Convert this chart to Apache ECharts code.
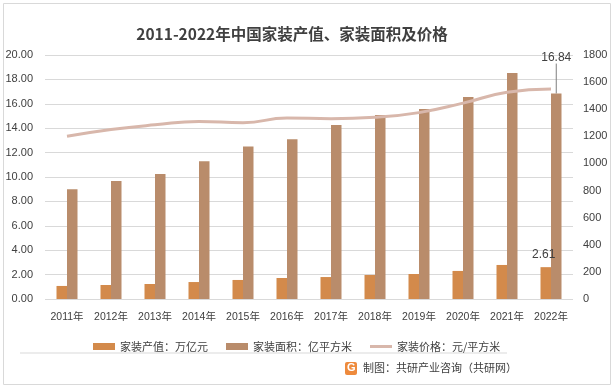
<!DOCTYPE html>
<html><head><meta charset="utf-8">
<script src="https://cdn.jsdelivr.net/npm/echarts@6/dist/echarts.min.js"></script>
<style>html,body{margin:0;padding:0;background:#fff}#c{width:615px;height:389px}</style>
</head><body><div id="c"></div>
<script>
const categories = ['2011年','2012年','2013年','2014年','2015年','2016年','2017年','2018年','2019年','2020年','2021年','2022年'];
const outputValue = [1.07,1.15,1.23,1.39,1.56,1.72,1.80,1.97,2.05,2.30,2.79,2.61];
const area = [9.0,9.67,10.25,11.3,12.5,13.1,14.26,15.08,15.57,16.56,18.52,16.84];
const price = [1200,1250,1285,1310,1300,1335,1330,1340,1375,1445,1525,1550];
const leftTicks = {min:0,max:20,interval:2};
const rightTicks = {min:0,max:1800,interval:200};
const seriesNames = ['家装产值：万亿元','家装面积：亿平方米','家装价格：元/平方米'];
const titleText = '2011-2022年中国家装产值、家装面积及价格';
const sourceText = '制图：共研产业咨询（共研网）';

const txt = '#404040';
const numFont = "'Liberation Sans', Arial, 'Noto Sans CJK SC', sans-serif";
const cjkFont = "'Noto Sans CJK SC', sans-serif";
const last = categories.length - 1;

const chart = echarts.init(document.getElementById('c'), null, {renderer:'canvas'});
chart.setOption({
  animation:false,
  title:{text:titleText,left:287,textAlign:'center',top:21,
    textStyle:{fontFamily:cjkFont,fontSize:15.5,fontWeight:'bold',color:txt}},
  grid:{left:45,right:42,top:55,bottom:90},
  legend:{left:88,top:336,itemWidth:22,itemHeight:7,itemGap:18,
    textStyle:{fontFamily:cjkFont,fontSize:11,color:txt},
    data:[{name:seriesNames[0],icon:'rect'},{name:seriesNames[1],icon:'rect'},
      {name:seriesNames[2],icon:'path://M0,0M22,7M0,2h22v3h-22z'}]},
  xAxis:{type:'category',data:categories,
    axisLine:{show:false},axisTick:{show:false},
    axisLabel:{interval:0,fontFamily:numFont,fontSize:10.5,color:txt,margin:13}},
  yAxis:[
    {type:'value',min:leftTicks.min,max:leftTicks.max,interval:leftTicks.interval,
      axisLabel:{formatter:v=>v.toFixed(2),fontFamily:numFont,fontSize:11,color:txt,margin:12},
      splitLine:{lineStyle:{color:'#d9d9d9'}},axisLine:{show:false},axisTick:{show:false}},
    {type:'value',min:rightTicks.min,max:rightTicks.max,interval:rightTicks.interval,
      axisLabel:{formatter:v=>String(v),fontFamily:numFont,fontSize:11,color:txt,margin:10},
      splitLine:{show:false},axisLine:{show:false},axisTick:{show:false}}
  ],
  series:[
    {name:seriesNames[0],type:'bar',barWidth:10.5,barGap:'0%',
      itemStyle:{color:'#D38A4B'},
      data:outputValue.map((v,i)=>i===last?{value:v,label:{show:true,position:'top',distance:6,offset:[-2,0],
        fontFamily:numFont,fontSize:12,color:txt}}:v)},
    {name:seriesNames[1],type:'bar',barWidth:10.5,barGap:'0%',
      itemStyle:{color:'#B98C6B'},
      labelLine:{show:true,lineStyle:{color:'#7f7f7f',width:1}},
      labelLayout:function(p){ if(p.dataIndex===last){return {dy:-26};} return {}; },
      data:area.map((v,i)=>i===last?{value:v,label:{show:true,position:'top',distance:4,
        fontFamily:numFont,fontSize:12,color:txt}}:v)},
    {name:seriesNames[2],type:'line',yAxisIndex:1,smooth:true,symbol:'none',
      lineStyle:{color:'#D8B7AB',width:3},itemStyle:{color:'#D8B7AB'},
      data:price.map((v,i)=>i===last?{value:v,label:{show:true,position:'right',distance:10,
        fontFamily:numFont,fontSize:12,color:txt}}:v)}
  ],
  graphic:[
    {type:'rect',shape:{x:3.5,y:3.5,width:607,height:381},style:{fill:null,stroke:'#d9d9d9',lineWidth:1},z:-1},
    {type:'line',shape:{x1:20,y1:353,x2:507,y2:353},style:{stroke:'#d9d9d9',lineWidth:1}},
    {type:'rect',shape:{x:345,y:362,width:12,height:13,r:2},style:{fill:'#EE8A3C'}},
    {type:'text',left:347,top:362,style:{text:'G',fill:'#fff',font:'bold 11px Arial'}},
    {type:'text',left:363,top:362,style:{text:sourceText,fill:txt,font:"11px 'Noto Sans CJK SC'"}}
  ]
});
</script></body></html>
